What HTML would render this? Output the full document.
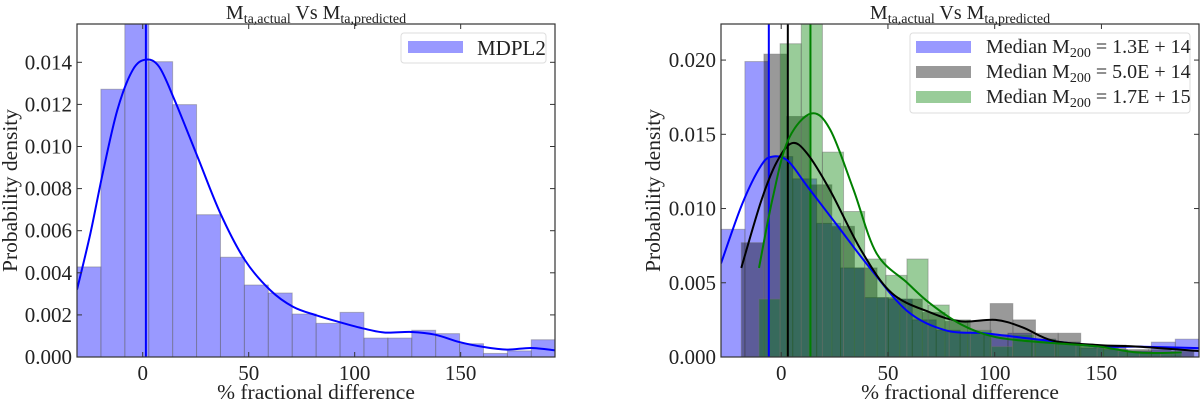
<!DOCTYPE html>
<html><head><meta charset="utf-8">
<style>
html,body{margin:0;padding:0;background:#fff;}
svg{display:block;font-family:"Liberation Serif","DejaVu Serif",serif;}
</style></head>
<body>
<svg id="fig" width="1200" height="403" viewBox="0 0 1200 403"></svg>
<script>
// ---------- data: left panel ----------
const leftBinStart = -31;
const leftBinWidth = 11.28;
const leftBarHeights = [0.00428,0.01272,0.0162,0.01403,0.01199,0.00676,0.00474,0.00342,0.00304,0.00204,0.00160,0.00212,0.00090,0.00090,0.00127,0.00111,0.00063,0.00017,0.00029,0.00082];
const leftKdeX = [-31,-24.7,-18.9,-12,-4.8,1.5,7.8,15.1,25.9,36.7,48.3,60.2,71,81.9,92.7,104.3,114.4,126.8,138,149.4,160.6,171.8,183.2,194.5];
const leftKdeY = [0.00320,0.00586,0.00871,0.01172,0.01362,0.01413,0.01378,0.01219,0.00950,0.00681,0.00459,0.00317,0.00238,0.00198,0.00166,0.00135,0.00116,0.00119,0.00106,0.00071,0.00048,0.00035,0.00043,0.00032];
const leftMedian = 1.5;
const leftYTicks = [0,0.002,0.004,0.006,0.008,0.010,0.012,0.014];
const leftYTickLabels = ["0.000","0.002","0.004","0.006","0.008","0.010","0.012","0.014"];
const xTicks = [0,50,100,150];
const xTickLabels = ["0","50","100","150"];
// ---------- data: right panel ----------
const blueBinStart = -28.2, blueBinWidth = 11.2;
const blueBars = [0.0086,0.0199,0.0135,0.0120,0.0090,0.0060,0.0040,0.0039,0.0025,0.0018,0.0016,0.0015,0.0016,0.0012,0.0010,0.0006,0.0005,0.0004,0.0010,0.0012];
const blackBinStart = -18.7, blackBinWidth = 10.6;
const blackBars = [0.0077,0.0204,0.0162,0.0116,0.0088,0.0060,0.0040,0.0039,0.0030,0.0024,0.0024,0.0036,0.0025,0.0016,0.0016,0.0008,0.0008,0.0005,0.0005,0.0004];
const greenBinStart = -10.4, greenBinWidth = 9.9;
const greenBars = [0.0039,0.0211,0.0240,0.0138,0.0098,0.0066,0.0055,0.0066,0.0035,0.0025,0.0018,0.0007,0.0015,0.0012,0.0010,0.0008,0.0006,0.0004,0.0003,0.0002];
const blueKdeX = [-28.2,-18.3,-9.4,-4,3.2,12.2,26.6,41,59,77,95,113,131,149,167,195.7];
const blueKdeY = [0.0063,0.0103,0.0129,0.0135,0.0132,0.0115,0.0088,0.0061,0.0031,0.0018,0.0016,0.0013,0.0010,0.0007,0.0007,0.0006];
const blackKdeX = [-18.7,-9.4,-2.2,5,12.2,23,37.4,51.8,69.8,84.2,100.4,113,127.3,149,167,195.7];
const blackKdeY = [0.0060,0.0105,0.0131,0.0144,0.0137,0.0112,0.0072,0.0043,0.0030,0.0024,0.0025,0.0020,0.0011,0.0008,0.0007,0.0004];
const greenKdeX = [-10.4,-4,3.2,14,23,33.8,44.6,59,69.8,84.2,98.6,113,131,149,167,187.6];
const greenKdeY = [0.0060,0.0107,0.0146,0.0164,0.0153,0.0113,0.0070,0.0050,0.0036,0.0022,0.0014,0.0011,0.0009,0.0007,0.0003,0.0003];
const medians = [-5.8,3.1,13.7];
const rightYTicks = [0,0.005,0.010,0.015,0.020];
const rightYTickLabels = ["0.000","0.005","0.010","0.015","0.020"];
const legendLabels = ["1.3E + 14","5.0E + 14","1.7E + 15"];

const NS="http://www.w3.org/2000/svg";
const svg=document.getElementById('fig');
function mk(tag,attrs,parent){const e=document.createElementNS(NS,tag);for(const k in attrs)e.setAttribute(k,attrs[k]);(parent||svg).appendChild(e);return e;}

function panel(o){
  const g=mk('g',{});
  
  
  const sx=v=>o.x0+(v-o.xmin)/(o.xmax-o.xmin)*(o.x1-o.x0);
  const sy=v=>o.y1-(v-0)/(o.ymax)*(o.y1-o.y0);
  const clip=mk('clipPath',{id:o.name+'-clip'},g);
  mk('rect',{x:o.x0,y:o.y0,width:o.x1-o.x0,height:o.y1-o.y0},clip);
  const plot=mk('g',{'clip-path':'url(#'+o.name+'-clip)'},g);
  o.draw(plot,sx,sy);
  const fr=mk('rect',{x:o.x0,y:o.y0,width:o.x1-o.x0,height:o.y1-o.y0,fill:'none',stroke:'#333','stroke-width':1.2},g);
  
  
  xTicks.forEach((t,i)=>{
    const x=sx(t);
    mk('line',{x1:x,x2:x,y1:o.y1,y2:o.y1-5,stroke:'#333'},g);
    mk('line',{x1:x,x2:x,y1:o.y0,y2:o.y0+5,stroke:'#333'},g);
    const tx=mk('text',{x:x,y:o.y1+23,'text-anchor':'middle','font-size':21,fill:'#222'},g);
    tx.textContent=xTickLabels[i];
    
    
  });
  o.yTicks.forEach((t,i)=>{
    const y=sy(t);
    mk('line',{x1:o.x0,x2:o.x0+5,y1:y,y2:y,stroke:'#333'},g);
    mk('line',{x1:o.x1,x2:o.x1-5,y1:y,y2:y,stroke:'#333'},g);
    const tx=mk('text',{x:o.x0-5,y:y+7,'text-anchor':'end','font-size':21,fill:'#222'},g);
    tx.textContent=o.yLabels[i];
    
    
  });
  const xl=mk('text',{x:(o.x0+o.x1)/2,y:399,'text-anchor':'middle','font-size':21.5,fill:'#222'},g);
  xl.textContent='% fractional difference';
  
  
  const yl=mk('text',{x:0,y:0,'text-anchor':'middle','font-size':21.5,fill:'#222',transform:`translate(${o.ylx},${(o.y0+o.y1)/2}) rotate(-90)`},g);
  yl.textContent='Probability density';
  
  
  const ti=mk('text',{x:(o.x0+o.x1)/2,y:19,'text-anchor':'middle','font-size':20,fill:'#222'},g);
  ti.innerHTML='M<tspan font-size="14" dy="4">ta,actual</tspan><tspan dy="-4"> Vs M</tspan><tspan font-size="14" dy="4">ta,predicted</tspan>';
  
  
  return g;
}
function bars(p,sx,sy,start,w,hs,fill,name){
  hs.forEach((h,i)=>{
    const a=sx(start+i*w),b=sx(start+(i+1)*w);
    const r=mk('rect',{x:a,y:sy(h),width:b-a,height:sy(0)-sy(h),fill:fill,stroke:'rgba(110,110,110,0.45)','stroke-width':1},p);
    
    
  });
}
function line(p,sx,sy,xs,ys,color,name){
  const pts=xs.map((x,i)=>[sx(x),sy(ys[i])]);
  let d='M'+pts[0][0]+','+pts[0][1];
  for(let i=0;i<pts.length-1;i++){
    const p0=pts[Math.max(0,i-1)],p1=pts[i],p2=pts[i+1],p3=pts[Math.min(pts.length-1,i+2)];
    const c1=[p1[0]+(p2[0]-p0[0])/6,p1[1]+(p2[1]-p0[1])/6],c2=[p2[0]-(p3[0]-p1[0])/6,p2[1]-(p3[1]-p1[1])/6];
    d+=` C${c1[0]},${c1[1]} ${c2[0]},${c2[1]} ${p2[0]},${p2[1]}`;
  }
  const e=mk('path',{d:d,fill:'none',stroke:color,'stroke-width':2},p);
  
  
}
function vline(p,sx,v,y0,y1,color,name){
  const e=mk('line',{x1:sx(v),x2:sx(v),y1:y0,y2:y1,stroke:color,'stroke-width':2},p);
  
  
}

panel({name:'left-chart',x0:77,x1:555,y0:24,y1:357,xmin:-31,xmax:194.5,ymax:0.01582,
  yTicks:leftYTicks,yLabels:leftYTickLabels,ylx:17,
  draw:(p,sx,sy)=>{
    bars(p,sx,sy,leftBinStart,leftBinWidth,leftBarHeights,'rgba(0,0,255,0.4)','histogram-bar');
    line(p,sx,sy,leftKdeX,leftKdeY,'#0000ff','kde-curve');
    vline(p,sx,leftMedian,24,357,'#0000ff','median-line');
  }});
panel({name:'right-chart',x0:721,x1:1199,y0:24,y1:357,xmin:-28.2,xmax:195.7,ymax:0.02243,
  yTicks:rightYTicks,yLabels:rightYTickLabels,ylx:660,
  draw:(p,sx,sy)=>{
    bars(p,sx,sy,blueBinStart,blueBinWidth,blueBars,'rgba(0,0,255,0.4)','blue-bar');
    bars(p,sx,sy,blackBinStart,blackBinWidth,blackBars,'rgba(0,0,0,0.4)','black-bar');
    bars(p,sx,sy,greenBinStart,greenBinWidth,greenBars,'rgba(0,128,0,0.4)','green-bar');
    vline(p,sx,medians[0],24,357,'#0000ff','blue-median-line');
    vline(p,sx,medians[1],24,357,'#000','black-median-line');
    vline(p,sx,medians[2],24,357,'#008000','green-median-line');
    line(p,sx,sy,blueKdeX,blueKdeY,'#0000ff','blue-kde-curve');
    line(p,sx,sy,blackKdeX,blackKdeY,'#000','black-kde-curve');
    line(p,sx,sy,greenKdeX,greenKdeY,'#008000','green-kde-curve');
  }});

let lg=mk('g',{});


mk('rect',{x:401,y:33,width:145,height:30,rx:3,fill:'rgba(255,255,255,0.85)',stroke:'#ddd'},lg);
mk('rect',{x:408,y:41,width:55,height:12,fill:'rgba(0,0,255,0.4)'},lg);
let t=mk('text',{x:477,y:55,'font-size':21,fill:'#222'},lg);t.textContent='MDPL2';



lg=mk('g',{});


mk('rect',{x:910,y:33,width:280,height:80,rx:3,fill:'rgba(255,255,255,0.85)',stroke:'#ddd'},lg);
const lcol=['rgba(0,0,255,0.4)','rgba(0,0,0,0.4)','rgba(0,128,0,0.4)'];
legendLabels.forEach((l,i)=>{
  const cy=47+i*25;
  mk('rect',{x:916,y:cy-6,width:55,height:12,fill:lcol[i]},lg);
  const tt=mk('text',{x:986,y:cy+6,'font-size':20,fill:'#222'},lg);
  tt.innerHTML='Median M<tspan font-size="14" dy="4">200</tspan><tspan dy="-4"> = '+l+'</tspan>';
  
  
});
</script>
</body></html>
